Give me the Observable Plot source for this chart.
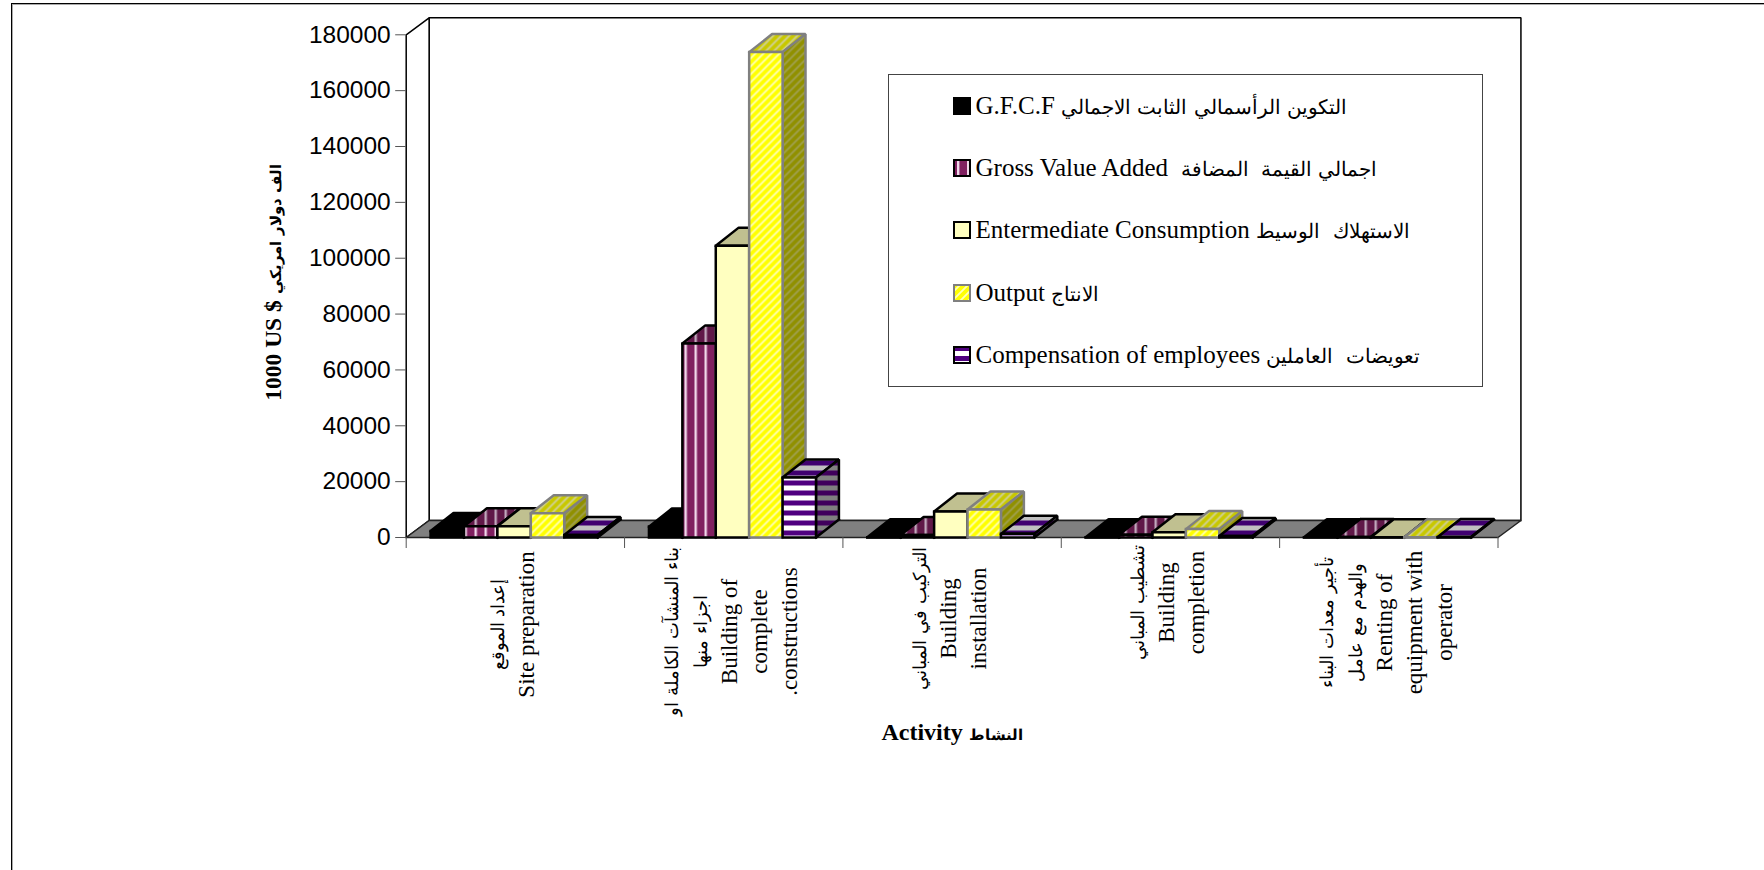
<!DOCTYPE html>
<html><head><meta charset="utf-8">
<script src="https://cdn.jsdelivr.net/npm/d3@7"></script>
<script src="https://cdn.jsdelivr.net/npm/@observablehq/plot@0.6"></script>
<style>
@font-face{font-family:"ArabicBody";src:local("DejaVu Sans");size-adjust:78%;unicode-range:U+0600-06FF,U+FB50-FDFF,U+FE70-FEFF}
@font-face{font-family:"ArabicHead";src:local("DejaVu Sans Bold"),local("DejaVu Sans");font-weight:bold;size-adjust:64%;unicode-range:U+0600-06FF,U+FB50-FDFF,U+FE70-FEFF}
html,body{margin:0;padding:0;background:#fff;overflow:hidden}
#page{position:relative;width:1764px;height:870px;overflow:hidden}
#frame{position:absolute;left:10.5px;top:3px;right:-5px;bottom:-5px;border-left:1.5px solid #000;border-top:1.5px solid #000;box-shadow:inset 1px 1px 0 #aaa}
#chart{position:absolute;left:0;top:0}
#legend{position:absolute;left:888px;top:73.5px;width:592.5px;height:311px;background:#fff;border:1.5px solid #444;box-sizing:content-box}
.row{position:absolute;left:63.5px;display:flex;align-items:center;height:30px;font:25px "ArabicBody","Liberation Serif","Times New Roman",serif;color:#000;white-space:pre}
.row svg{margin-right:5px;flex:none}
</style></head>
<body><div id="page"><div id="frame"></div><div id="chart"></div><div id="legend"></div></div>
<script>
const categories = [
  "إعداد الموقع\nSite preparation",
  "بناء المنشآت الكاملة او\nاجزاء منها\nBuilding of\ncomplete\n.constructions",
  "التركيب في المباني\nBuilding\ninstallation",
  "تشطيب المباني\nBuilding\ncompletion",
  "تأجير معدات البناء\nوالهدم مع عامل\nRenting of\nequipment with\noperator"
];
const labelDrop = [87, 94, 81, 65, 85];
const seriesNames = [
  "G.F.C.F التكوين الرأسمالي الثابت الاجمالي",
  "Gross Value Added  اجمالي القيمة  المضافة",
  "Entermediate Consumption الاستهلاك  الوسيط",
  "Output الانتاج",
  "Compensation of employees تعويضات  العاملين"
];
const gfcf   = [2300, 3900, 100, 100, 100];
const gva    = [4000, 69500, 900, 1000, 150];
const ic     = [4000, 104500, 9300, 1900, 50];
const output = [8700, 173800, 10000, 3000, 100];
const comp   = [900, 21500, 1300, 500, 200];
const seriesValues = [gfcf, gva, ic, output, comp];
const yTicks = [0,20000,40000,60000,80000,100000,120000,140000,160000,180000];
const xTicks = [0,1,2,3,4,5];

const styles = [
  {front:"#000", top:"#000", side:"#000", stroke:"#000"},
  {front:"url(#gvaF)", top:"url(#gvaT)", side:"url(#gvaS)", stroke:"#000"},
  {front:"#ffffc0", top:"#c0c090", side:"#909068", stroke:"#000"},
  {front:"url(#outF)", top:"url(#outT)", side:"url(#outS)", stroke:"#808080"},
  {front:"url(#cmpF)", top:"url(#cmpT)", side:"url(#cmpS)", stroke:"#000"}
];
function patterns(){
  const defs = d3.create("svg:defs");
  const base=(id,b,n)=>{const p=defs.append("pattern").attr("id",id).attr("patternUnits","userSpaceOnUse").attr("width",n).attr("height",n);
    p.append("rect").attr("width",n).attr("height",n).attr("fill",b);return p;};
  const vert=(id,b,s)=>base(id,b,10).append("rect").attr("x",4).attr("width",2.4).attr("height",10).attr("fill",s);
  const hor=(id,b,s)=>base(id,b,10).append("rect").attr("y",5).attr("width",10).attr("height",5).attr("fill",s);
  const diag=(id,b,s)=>base(id,b,8).append("path").attr("d","M-2,2L2,-2M0,8L8,0M6,10L10,6").attr("stroke",s).attr("stroke-width",1.8);
  vert("gvaF","#802060","#f0d8ea"); vert("gvaT","#601848","#c0a8bc"); vert("gvaS","#501040","#a890a4");
  diag("outF","#ffff00","#ffffb8"); diag("outT","#c8c800","#d0d098"); diag("outS","#909000","#a0a050");
  hor("cmpF","#500080","#ffffff"); hor("cmpT","#400070","#c0c0c0"); hor("cmpS","#40005c","#808080");
  return defs.node();
}
// widths in axis units
const lead = 0.1117, w = 0.153, dx = 0.105, dyv = 6450, wallX = 0.105, wallY = 6090, yMax = 180000;
const pt = (x,y)=>({x,y});
const face = (pts, fill, stroke, sw=2.5) => Plot.line([...pts, pts[0], pts[1]], {x:"x", y:"y", fill, stroke, strokeWidth:sw, strokeLinejoin:"miter", strokeLinecap:"square"});

const bars = [];
categories.forEach((_, i) => {
  seriesValues.forEach((vals, s) => {
    const v = vals[i], x0 = i + lead + s*w, x1 = x0 + w, st = styles[s];
    bars.push(face([pt(x0,v),pt(x1,v),pt(x1+dx,v+dyv),pt(x0+dx,v+dyv)], st.top, st.stroke));
    bars.push(face([pt(x1,0),pt(x1+dx,dyv),pt(x1+dx,v+dyv),pt(x1,v)], st.side, st.stroke));
    bars.push(face([pt(x0,0),pt(x1,0),pt(x1,v),pt(x0,v)], st.front, st.stroke));
  });
});

const plot = Plot.plot({
  width:1764, height:870,
  marginLeft:405.7, marginRight:266.5, marginTop:34.3, marginBottom:333,
  style:{background:"transparent", overflow:"visible"},
  x:{type:"linear", domain:[0,5], axis:null},
  y:{domain:[0,yMax], axis:null},
  marks:[
    patterns,
    face([pt(wallX,wallY),pt(5+wallX,wallY),pt(5+wallX,yMax+wallY),pt(wallX,yMax+wallY)], "#fff", "#000", 1.5),
    face([pt(0,0),pt(wallX,wallY),pt(wallX,yMax+wallY),pt(0,yMax)], "#fff", "#000", 1.5),
    face([pt(0,0),pt(5,0),pt(5+wallX,wallY),pt(wallX,wallY)], "#808080", "#222", 1.5),
    Plot.axisY({ticks:yTicks, tickSize:10.5, tickPadding:5, tickFormat:d3.format("d"), label:null, anchor:"left",
      fontSize:24.5, fontFamily:"Liberation Sans, Arial, sans-serif", stroke:"#555", color:"#000"}),
    Plot.axisX({ticks:xTicks, tickSize:11, tickFormat:()=>"", label:null, anchor:"bottom", stroke:"#555"}),
    ...bars,
    ...categories.map((c,i)=>Plot.text([c],{x:i+0.5, y:0, dy:labelDrop[i], dx:-6, text:d=>d, rotate:-90, textAnchor:"middle",
      lineAnchor:"middle", lineHeight:1.3, fontSize:23, fontFamily:"ArabicBody, Liberation Serif, serif", fill:"#000"})),
    Plot.text(["Activity النشاط"],{x:2.5, y:0, dy:195, text:d=>d, textAnchor:"middle", fontSize:24, fontWeight:"bold",
      fontFamily:"ArabicHead, Liberation Serif, serif", fill:"#000"}),
    Plot.text(["1000 US $ الف دولار امريكي"],{x:0, y:90000, dx:-133, dy:-4, text:d=>d, rotate:-90, textAnchor:"middle", fontSize:23.5, fontWeight:"bold",
      fontFamily:"ArabicHead, Liberation Serif, serif", fill:"#000"})
  ]
});
document.getElementById("chart").append(plot);

const leg = d3.select("#legend");
const swatches = ["#000","url(#gvaF)","#ffffc0","url(#outF)","url(#cmpF)"];
seriesNames.forEach((n,i)=>{
  const row = leg.append("div").attr("class","row").style("top",(16 + i*62.4)+"px");
  const s = row.append("svg").attr("width",18).attr("height",18);
  s.append("rect").attr("x",1).attr("y",1).attr("width",16).attr("height",16).attr("fill",swatches[i]).attr("stroke",styles[i].stroke).attr("stroke-width",2);
  row.append("span").text(n);
});
</script></body></html>
